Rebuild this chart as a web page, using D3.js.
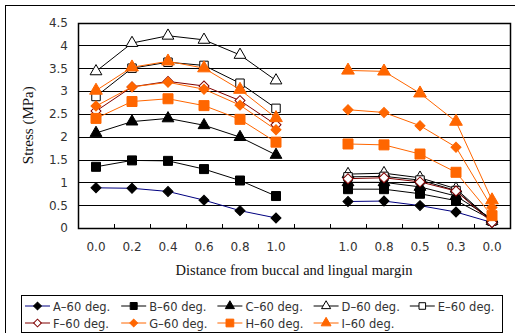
<!DOCTYPE html>
<html>
<head>
<meta charset="utf-8">
<script src="https://cdn.jsdelivr.net/npm/d3@7"></script>
<style>
  body { margin: 0; background: #fff; }
  svg { display: block; }
</style>
</head>
<body>
<svg id="chart"></svg>
<script>
// category labels along the x axis (index 6 is the empty gap)
var xLabels = ["0.0", "0.2", "0.4", "0.6", "0.8", "1.0", "", "1.0", "0.8", "0.5", "0.3", "0.0"];
var yTicks = [0, 0.5, 1, 1.5, 2, 2.5, 3, 3.5, 4, 4.5];

var seriesNames = ["A–60 deg.", "B–60 deg.", "C–60 deg.", "D–60 deg.", "E–60 deg.",
                   "F–60 deg.", "G–60 deg.", "H–60 deg.", "I–60 deg."];

var aValues = [0.88, 0.87, 0.80, 0.61, 0.38, 0.22, null, 0.58, 0.59, 0.49, 0.35, 0.12];
var bValues = [1.34, 1.48, 1.47, 1.29, 1.04, 0.70, null, 0.85, 0.85, 0.75, 0.60, 0.18];
var cValues = [2.08, 2.33, 2.40, 2.25, 1.99, 1.60, null, 1.00, 1.00, 0.90, 0.70, 0.20];
var dValues = [3.43, 4.05, 4.21, 4.12, 3.79, 3.23, null, 1.18, 1.20, 1.10, 0.86, 0.15];
var eValues = [2.88, 3.50, 3.63, 3.56, 3.17, 2.62, null, 1.12, 1.13, 1.05, 0.82, 0.15];
var fValues = [2.56, 3.09, 3.21, 3.11, 2.79, 2.26, null, 1.08, 1.10, 1.01, 0.81, 0.12];
var gValues = [2.67, 3.09, 3.19, 3.04, 2.69, 2.15, null, 2.59, 2.53, 2.24, 1.77, 0.45];
var hValues = [2.40, 2.77, 2.83, 2.68, 2.38, 1.88, null, 1.84, 1.82, 1.62, 1.22, 0.27];
var iValues = [3.01, 3.52, 3.65, 3.50, 3.03, 2.41, null, 3.45, 3.43, 2.95, 2.33, 0.61];

var allValues = [aValues, bValues, cValues, dValues, eValues, fValues, gValues, hValues, iValues];

// look of each series: line colour, marker shape, marker fill, marker stroke, marker size
var styles = [
  { line: "#000080", shape: "diamond",  fill: "#000",    stroke: "#000",    size: 50 },
  { line: "#000",    shape: "square",   fill: "#000",    stroke: "#000",    size: 81 },
  { line: "#000",    shape: "triangle", fill: "#000",    stroke: "#000",    size: 60 },
  { line: "#000",    shape: "triangle", fill: "#fff",    stroke: "#000",    size: 60 },
  { line: "#000",    shape: "square",   fill: "#fff",    stroke: "#000",    size: 72 },
  { line: "#800000", shape: "diamond",  fill: "#fff",    stroke: "#800000", size: 50 },
  { line: "#ff6600", shape: "diamond",  fill: "#ff6600", stroke: "#ff6600", size: 50 },
  { line: "#ff6600", shape: "square",   fill: "#ff6600", stroke: "#ff6600", size: 100 },
  { line: "#ff6600", shape: "triangle", fill: "#ff6600", stroke: "#ff6600", size: 70 }
];

var width = 515, height = 333;
var plot = { left: 78, top: 22.5, right: 510, bottom: 228 };

var svg = d3.select("svg#chart").attr("width", width).attr("height", height);

// outer frame (only left and top edges fall inside the picture)
svg.append("rect")
  .attr("x", 5.5).attr("y", 5.5)
  .attr("width", 530).attr("height", 350)
  .attr("fill", "none").attr("stroke", "#000").attr("stroke-width", 1);

var x = d3.scaleBand()
  .domain(d3.range(xLabels.length))
  .range([plot.left, plot.right])
  .padding(0);

var y = d3.scaleLinear()
  .domain([0, 4.5])
  .range([plot.bottom, plot.top]);

function cx(i) { return x(i) + x.bandwidth() / 2; }

// horizontal grid lines
svg.append("g")
  .selectAll("line")
  .data(yTicks)
  .join("line")
  .attr("x1", plot.left).attr("x2", plot.right)
  .attr("y1", function (d) { return Math.round(y(d)) + 0.5; })
  .attr("y2", function (d) { return Math.round(y(d)) + 0.5; })
  .attr("stroke", "#000").attr("stroke-width", 1);

// plot frame
svg.append("rect")
  .attr("x", plot.left + 0.5).attr("y", Math.round(plot.top) + 0.5)
  .attr("width", plot.right - plot.left)
  .attr("height", Math.round(plot.bottom) - Math.round(plot.top))
  .attr("fill", "none").attr("stroke", "#000").attr("stroke-width", 1.5);

// y axis labels
var yAxis = d3.axisLeft(y).tickValues(yTicks).tickSize(0).tickPadding(10)
  .tickFormat(function (d) { return d3.format("")(d); });
var yg = svg.append("g")
  .attr("transform", "translate(" + plot.left + ",0)")
  .call(yAxis);
yg.select(".domain").remove();
yg.selectAll("text")
  .attr("font-family", "DejaVu Sans, sans-serif")
  .attr("font-size", 12)
  .attr("fill", "#333");

// x axis: inside ticks at category boundaries, labels at centres
svg.append("g")
  .selectAll("line")
  .data(d3.range(1, xLabels.length))
  .join("line")
  .attr("x1", function (d) { return Math.round(x(d)) + 0.5; })
  .attr("x2", function (d) { return Math.round(x(d)) + 0.5; })
  .attr("y1", plot.bottom).attr("y2", plot.bottom - 4)
  .attr("stroke", "#000");

svg.append("g")
  .selectAll("text")
  .data(xLabels)
  .join("text")
  .attr("x", function (d, i) { return cx(i); })
  .attr("y", 251)
  .attr("text-anchor", "middle")
  .attr("font-family", "DejaVu Sans, sans-serif")
  .attr("font-size", 12)
  .attr("fill", "#333")
  .text(function (d) { return d; });

// axis titles
svg.append("text")
  .attr("x", (plot.left + plot.right) / 2)
  .attr("y", 275)
  .attr("text-anchor", "middle")
  .attr("font-family", "Liberation Serif, serif")
  .attr("font-size", 14.5)
  .attr("fill", "#111")
  .text("Distance from buccal and lingual margin");

svg.append("text")
  .attr("transform", "translate(33," + ((plot.top + plot.bottom) / 2) + ") rotate(-90)")
  .attr("text-anchor", "middle")
  .attr("font-family", "Liberation Serif, serif")
  .attr("font-size", 15)
  .attr("fill", "#111")
  .text("Stress (MPa)");

function symbolPath(shape, size) {
  if (shape === "triangle") return d3.symbol(d3.symbolTriangle, size)();
  return d3.symbol(d3.symbolSquare, size)();
}
function symbolRotate(shape) { return shape === "diamond" ? " rotate(45)" : ""; }

var line = d3.line()
  .defined(function (d) { return d != null; })
  .x(function (d, i) { return cx(i); })
  .y(function (d) { return y(d); });

// series lines and markers
allValues.forEach(function (values, s) {
  var st = styles[s];
  var g = svg.append("g");
  g.append("path")
    .datum(values)
    .attr("fill", "none")
    .attr("stroke", st.line)
    .attr("stroke-width", 1)
    .attr("d", line);
  g.selectAll("path.mark")
    .data(values.map(function (v, i) { return { v: v, i: i }; })
      .filter(function (d) { return d.v != null; }))
    .join("path")
    .attr("class", "mark")
    .attr("d", symbolPath(st.shape, st.size))
    .attr("transform", function (d) {
      return "translate(" + cx(d.i) + "," + y(d.v) + ")" + symbolRotate(st.shape);
    })
    .attr("fill", st.fill)
    .attr("stroke", st.stroke)
    .attr("stroke-width", 1);
});

// legend
var legend = svg.append("g");
legend.append("rect")
  .attr("x", 21.5).attr("y", 295.5)
  .attr("width", 481).attr("height", 37)
  .attr("fill", "#fff").attr("stroke", "#000").attr("stroke-width", 1);

var legendItems = legend.selectAll("g.item")
  .data(seriesNames)
  .join("g")
  .attr("class", "item")
  .attr("transform", function (d, i) {
    var col = i % 5, row = Math.floor(i / 5);
    return "translate(" + (25 + col * 96.2) + "," + (306 + row * 17) + ")";
  });

legendItems.append("line")
  .attr("x1", 0).attr("x2", 25)
  .attr("stroke", function (d, i) { return styles[i].line; })
  .attr("stroke-width", 1);

legendItems.append("path")
  .attr("d", function (d, i) { return symbolPath(styles[i].shape, styles[i].size * 0.6); })
  .attr("transform", function (d, i) { return "translate(12.5,0)" + symbolRotate(styles[i].shape); })
  .attr("fill", function (d, i) { return styles[i].fill; })
  .attr("stroke", function (d, i) { return styles[i].stroke; });

legendItems.append("text")
  .attr("x", 28)
  .attr("y", 4.5)
  .attr("font-family", "DejaVu Sans, sans-serif")
  .attr("font-size", 11.5)
  .attr("fill", "#333")
  .text(function (d) { return d; });
</script>
</body>
</html>
